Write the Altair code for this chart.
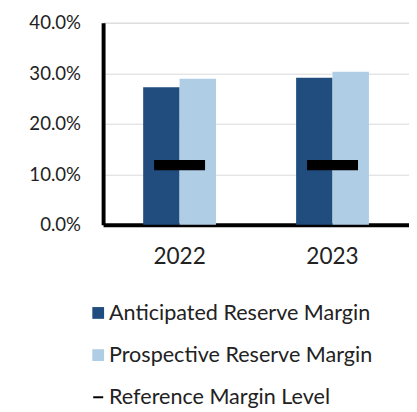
import altair as alt
import pandas as pd

years = ["2022", "2023"]
anticipated = [27.2, 29.1]
prospective = [28.9, 30.3]
reference = [11.8, 11.8]
series = ["Anticipated Reserve Margin", "Prospective Reserve Margin", "Reference Margin Level"]
colors = ["#204C7E", "#AFCDE4", "#000000"]
shapes = ["square", "square", "M-0.85,-0.17H0.85V0.17H-0.85Z"]
y_ticks = [0, 0.1, 0.2, 0.3, 0.4]

bars_df = pd.DataFrame({
    "year": years * 2,
    "series": [series[0]] * len(years) + [series[1]] * len(years),
    "value": [v / 100 for v in anticipated + prospective],
})
ref_df = pd.DataFrame({
    "year": years,
    "series": [series[2]] * len(years),
    "value": [v / 100 for v in reference],
})

FONT = "Lato"
TXT = "#222222"

x_enc = alt.X(
    "year:N",
    title=None,
    scale=alt.Scale(paddingInner=0.524, paddingOuter=0.262),
    axis=alt.Axis(
        labelAngle=0, labelFont=FONT, labelFontSize=23, labelColor=TXT,
        labelPadding=22, ticks=False, tickSize=0, domainColor="#000000",
        domainWidth=4, grid=False,
    ),
)
y_enc = alt.Y(
    "value:Q",
    title=None,
    scale=alt.Scale(domain=[0, 0.4], nice=False),
    axis=alt.Axis(
        values=y_ticks, format=".1%", labelFont=FONT, labelFontSize=19,
        labelColor=TXT, labelPadding=23, ticks=False, tickSize=0,
        domainColor="#000000", domainWidth=4, gridColor="#D9D9D9",
        gridWidth=1,
    ),
)

color_scale = alt.Scale(domain=series, range=colors)
shape_scale = alt.Scale(domain=series, range=shapes)
legend = alt.Legend(
    title=None, orient="none", legendX=-16, legendY=285,
    labelFont=FONT, labelFontSize=22, labelColor=TXT, symbolSize=144,
    symbolOpacity=1, symbolStrokeWidth=0, rowPadding=21, labelOffset=0,
    labelLimit=400,
)

bars = alt.Chart(bars_df).mark_bar(opacity=1).encode(
    x=x_enc,
    xOffset=alt.XOffset("series:N", scale=alt.Scale(domain=series[:2], paddingInner=0, paddingOuter=0)),
    y=y_enc,
    color=alt.Color("series:N", scale=color_scale, legend=legend),
)

refs = alt.Chart(ref_df).mark_point(filled=True, opacity=1, size=3741, strokeWidth=0).encode(
    x=x_enc,
    y=y_enc,
    color=alt.Color("series:N", scale=color_scale, legend=legend),
    shape=alt.Shape("series:N", scale=shape_scale, legend=legend),
)

chart = alt.layer(bars, refs).properties(
    width=312, height=206,
    autosize=alt.AutoSizeParams(type="none"),
    padding={"left": 97, "top": 11, "right": 0, "bottom": 187},
).configure_view(stroke=None).configure(background="white")

chart.save("out.html", embed_options={"renderer": "svg", "actions": False})
